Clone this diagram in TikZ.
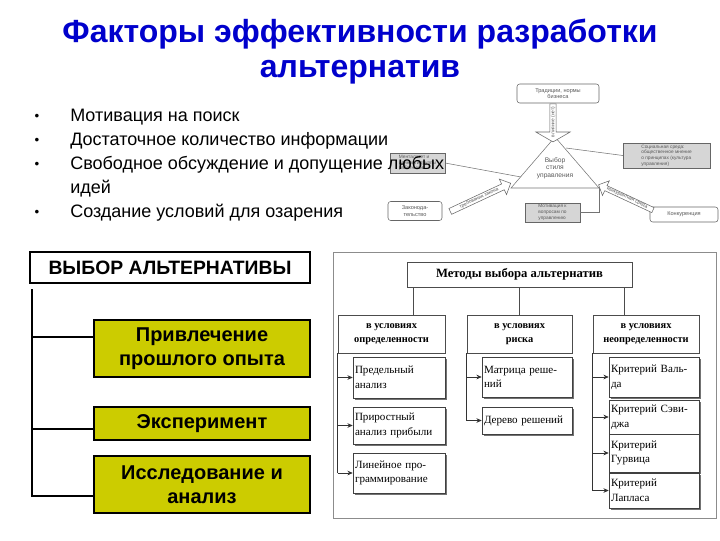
\documentclass[tikz,border=0pt]{standalone}
\usepackage{fontspec}
\setmainfont{Liberation Sans}
\newfontfamily\tmsfont{Liberation Serif}
\usetikzlibrary{arrows.meta,positioning,calc,shapes.arrows,shadows}
\definecolor{ttlBlue}{RGB}{0,0,204}
\definecolor{boxYellow}{RGB}{204,204,0}
\definecolor{picGray}{RGB}{214,214,214}
\tikzset{
	ttl/.style={text=ttlBlue, align=center, font=\fontsize{24}{29}\selectfont\bfseries},
	blt/.style={anchor=west, align=left, inner sep=0pt, font=\fontsize{13.5}{18}\selectfont},
	hbox/.style={draw, line width=2.2pt, fill=white, inner sep=0pt,
		minimum width=210pt, minimum height=23.25pt,
		font=\fontsize{14.5}{16}\selectfont\bfseries},
	ybox/.style={draw, line width=2.2pt, fill=boxYellow, align=center, inner sep=0pt,
		minimum width=162pt, font=\fontsize{15}{18}\selectfont\bfseries},
	spine/.style={line width=2.2pt},
	mbox/.style={draw=black!70, fill=white, align=center, inner sep=0pt,
		font=\tmsfont\fontsize{9.5}{11}\selectfont\bfseries},
	cbox/.style={draw=black!70, fill=white, align=center, inner sep=0pt,
		minimum height=28.5pt, font=\tmsfont\fontsize{7.8}{10}\selectfont\bfseries},
	ibox/.style={draw=black!75, fill=white, align=left, inner sep=0pt, inner xsep=1.5pt,
		drop shadow={shadow xshift=1.2pt, shadow yshift=-1.2pt, fill=black!55, opacity=1},
		font=\tmsfont\fontsize{8.3}{11}\selectfont},
	iarr/.style={-{Stealth[length=4pt,width=3.5pt]}, black!80, line width=0.6pt},
	rbox/.style={draw=black!60, rounded corners=2pt, fill=white, align=center, inner sep=0pt,
		text=black!65, font=\fontsize{4.2}{5}\selectfont},
	gbox/.style={draw=black!60, fill=picGray, align=left, inner sep=1pt, text=black!65,
		font=\fontsize{3.6}{4.3}\selectfont},
	barr/.style={draw=black!60, fill=white, single arrow, inner sep=0.5pt, text=black!65,
		font=\fontsize{3.6}{4.3}\selectfont, align=center},
	fline/.style={draw=black!55, line width=0.4pt}
}

\begin{document}
\begin{tikzpicture}[x=0.75pt, y=-0.75pt]
	\useasboundingbox (0,0) rectangle (720,540);

	% title
	\node[ttl] (T1) at (360,34) {Факторы эффективности разработки};
	\node[ttl] (T2) at (360,72) {альтернатив};

	% embedded picture: style of management
	\coordinate (apex) at (555,137);
	\coordinate (cL) at (511,188);
	\coordinate (cR) at (599,188);
	\draw[fline] (apex) -- (cL) -- (cR) -- cycle;
	\node[font=\fontsize{5}{5.6}\selectfont, text=black!65, align=center] (vybor) at (555,168)
		{Выбор\\стиля\\управления};
	\node[rbox, minimum width=61.5pt, minimum height=14.25pt] (trad) at (558,93.5)
		{Традиции, нормы\\бизнеса};
	\node[barr, rotate=90, shape border rotate=180, minimum height=28.5pt, minimum width=15pt,
		single arrow head extend=10.5pt, single arrow tip angle=120] (infl) at (553,122)
		{влияние (нет)};
	\node[rbox, minimum width=40.5pt, minimum height=14.25pt] (zakon) at (415,211)
		{Законода-\\тельство};
	\node[rbox, minimum width=51pt, minimum height=11.25pt] (konk) at (684,214.5)
		{Конкуренция};
	\node[barr, rotate=25, minimum height=50pt, minimum width=10.5pt,
		single arrow head extend=4pt] (arrL) at (479,198) {требования закона};
	\node[barr, rotate=-25, shape border rotate=180, minimum height=45pt, minimum width=10.5pt,
		single arrow head extend=4pt] (arrR) at (627,198) {конкурентная среда};
	\node[gbox, minimum width=65pt, minimum height=18.75pt] (social) at (666.5,155.5)
		{Социальная среда:\\общественное мнение\\о принципах (культура\\управления)};
	\node[gbox, minimum width=41pt, minimum height=15pt] (mental) at (417.5,163)
		{Менталитет и\\ценности группы\\работников};
	\node[gbox, minimum width=41pt, minimum height=14.25pt] (motiv) at (552.5,212.5)
		{Мотивация к\\вопросам по\\управлению};
	\coordinate (sA) at (566,148);
	\coordinate (mA) at (521,177);
	\draw[fline] (social.west) -- (sA);
	\draw[fline] (mental.east) -- (mA);
	\draw[fline] (motiv.east) -| (cR);

	% factors
	\node[font=\fontsize{10}{12}\selectfont] (d1) at (37,117) {\textbullet};
	\node[font=\fontsize{10}{12}\selectfont] (d2) at (37,141) {\textbullet};
	\node[font=\fontsize{10}{12}\selectfont] (d3) at (37,165) {\textbullet};
	\node[font=\fontsize{10}{12}\selectfont] (d4) at (37,213) {\textbullet};
	\node[blt] (b1) at (70,117) {Мотивация на поиск};
	\node[blt] (b2) at (70,141) {Достаточное количество информации};
	\node[blt, anchor=north west] (b3) at (70,156) {Свободное обсуждение и допущение любых\\идей};
	\node[blt] (b4) at (70,213) {Создание условий для озарения};

	% choice of alternative
	\node[hbox] (vyb) at (170,267.5) {ВЫБОР АЛЬТЕРНАТИВЫ};
	\node[ybox, minimum height=42.75pt] (y1) at (202,348.5) {Привлечение\\прошлого опыта};
	\node[ybox, minimum height=24.75pt] (y2) at (202,423.5) {Эксперимент};
	\node[ybox, minimum height=42.75pt] (y3) at (202,484.5) {Исследование и\\анализ};
	\coordinate (s0) at (32,289);
	\draw[spine] (s0) |- (y3.west |- 0,496);
	\draw[spine] (s0 |- 0,337) -- (y1.west |- 0,337);
	\draw[spine] (s0 |- 0,429) -- (y2.west |- 0,429);

	% methods of choice
	\draw[draw=black!45] (333,252) rectangle (716,518);
	\node[mbox, minimum width=168.75pt, minimum height=18.75pt] (meth) at (519.5,274.5)
		{Методы выбора альтернатив};
	\node[cbox, minimum width=80.25pt] (c1) at (391.5,334) {в условиях\\определенности};
	\node[cbox, minimum width=78.75pt] (c2) at (519.5,334) {в условиях\\риска};
	\node[cbox, minimum width=79.5pt] (c3) at (646,334) {в условиях\\неопределенности};
	\draw[black!70] (meth.south -| 413,0) -- (c1.north -| 413,0);
	\draw[black!70] (meth.south -| c2.north) -- (c2.north);
	\draw[black!70] (meth.south -| 624,0) -- (c3.north -| 624,0);

	\node[ibox, text width=66pt, minimum height=30.75pt] (i11) at (399,377.5) {Предельный\\анализ};
	\node[ibox, text width=66pt, minimum height=27.75pt] (i12) at (399,425.5) {Приростный\\анализ прибыли};
	\node[ibox, text width=66pt, minimum height=30pt] (i13) at (399,473) {Линейное про-\\граммирование};
	\node[ibox, text width=64.5pt, minimum height=30pt] (i21) at (527,377) {Матрица реше-\\ний};
	\node[ibox, text width=64.5pt, minimum height=20.25pt] (i22) at (527,420.5) {Дерево решений};
	\node[ibox, text width=64.5pt, minimum height=30pt] (i31) at (654,377) {Критерий Валь-\\да};
	\node[ibox, text width=64.5pt, minimum height=25.5pt] (i32) at (654,417) {Критерий Сэви-\\джа};
	\node[ibox, text width=64.5pt, minimum height=28.5pt] (i33) at (654,453) {Критерий\\Гурвица};
	\node[ibox, text width=64.5pt, minimum height=26.25pt] (i34) at (654,490.5) {Критерий\\Лапласа};

	\draw[black!80, line width=0.6pt] (c1.south west) -- (c1.south west |- i13.west);
	\draw[black!80, line width=0.6pt] (c2.south west) -- (c2.south west |- i22.west);
	\draw[black!80, line width=0.6pt] (c3.south west) -- (c3.south west |- i34.west);
	\foreach \i in {i11,i12,i13}
		\draw[iarr] (c1.south west |- \i.west) -- (\i.west);
	\foreach \i in {i21,i22}
		\draw[iarr] (c2.south west |- \i.west) -- (\i.west);
	\foreach \i in {i31,i32,i33,i34}
		\draw[iarr] (c3.south west |- \i.west) -- (\i.west);
\end{tikzpicture}
\end{document}
